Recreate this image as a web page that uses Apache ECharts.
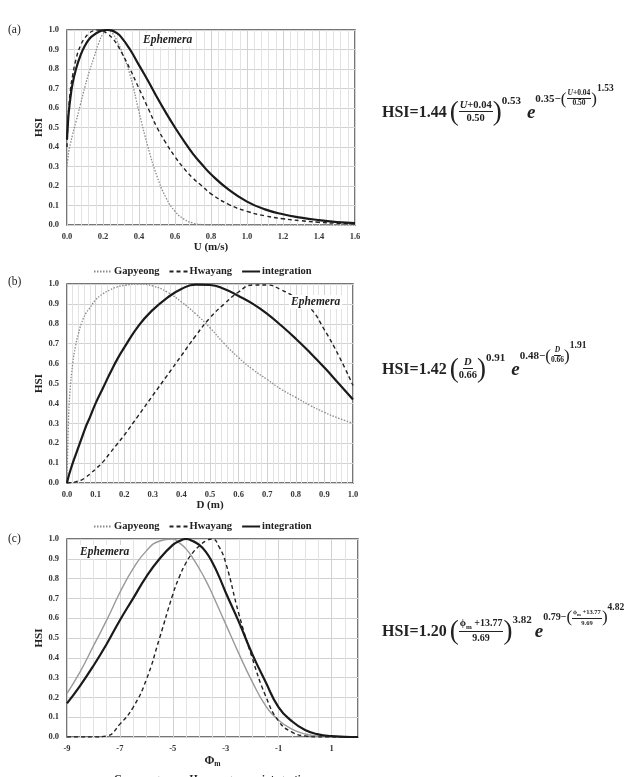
<!DOCTYPE html>
<html lang="en">
<head>
<meta charset="UTF-8">
<title>HSI curves - Ephemera</title>
<script src="https://cdn.jsdelivr.net/npm/echarts@6/dist/echarts.min.js"></script>
<style>
  body { margin: 0; background: #fff; }
  #wrap { position: relative; width: 631px; height: 777px; overflow: hidden; }
  #main { position: absolute; left: 0; top: 0; width: 631px; height: 777px; }
  .eq { position: absolute; left: 382px; display: flex; align-items: center; white-space: nowrap;
        font-family: "Liberation Serif", "DejaVu Serif", serif; font-weight: bold; color: #222; }
  .eq .lhs { font-size: 16px; margin-right: 3px; }
  .eq .par { font-size: 27px; font-weight: normal; line-height: 1; }
  .eq .frac { display: inline-flex; flex-direction: column; align-items: center; font-size: 10.5px; line-height: 1.15; }
  .eq .frac .num { border-bottom: 1px solid #222; padding: 0 1px; }
  .eq .pw { font-size: 11px; align-self: flex-start; margin-top: -4px; margin-right: 6px; }
  .eq .e { font-size: 19px; font-style: italic; }
  .eq .ex { display: inline-flex; align-items: center; font-size: 11px; align-self: flex-start; margin-top: -9px; }
  .eq .ex .frac { font-size: 7.5px; }
  .eq .ex .par { font-size: 17px; }
  .eq .ex .pw { font-size: 9.5px; margin-top: -6px; margin-right: 0; }
  .eq.c .frac { font-size: 10px; }
  .eq.c .pw { margin-right: 3px; }
  .eq.c .ex { font-size: 10px; }
  .eq.c .ex .frac { font-size: 6.5px; }
  .eq.c .ex .pw { margin-right: 0; }
  .eq sub { font-size: 70%; }
</style>
</head>
<body>
<div id="wrap">
  <div id="main"></div>
  <!-- equations (text only) -->
  <div class="eq" style="top:98px">
    <span class="lhs">HSI=1.44</span><span class="par">(</span><span class="frac"><span class="num"><i>U</i>+0.04</span><span class="den">0.50</span></span><span class="par">)</span><span class="pw">0.53</span>
    <span class="e">e</span><span class="ex">0.35−<span class="par">(</span><span class="frac"><span class="num"><i>U</i>+0.04</span><span class="den">0.50</span></span><span class="par">)</span><span class="pw">1.53</span></span>
  </div>
  <div class="eq" style="top:355px">
    <span class="lhs">HSI=1.42</span><span class="par">(</span><span class="frac"><span class="num"><i>D</i></span><span class="den">0.66</span></span><span class="par">)</span><span class="pw">0.91</span>
    <span class="e">e</span><span class="ex">0.48−<span class="par">(</span><span class="frac"><span class="num"><i>D</i></span><span class="den">0.66</span></span><span class="par">)</span><span class="pw">1.91</span></span>
  </div>
  <div class="eq c" style="top:617px">
    <span class="lhs">HSI=1.20</span><span class="par">(</span><span class="frac"><span class="num">ϕ<sub>m</sub> +13.77</span><span class="den">9.69</span></span><span class="par">)</span><span class="pw">3.82</span>
    <span class="e">e</span><span class="ex">0.79−<span class="par">(</span><span class="frac"><span class="num">ϕ<sub>m</sub> +13.77</span><span class="den">9.69</span></span><span class="par">)</span><span class="pw">4.82</span></span>
  </div>
</div>
<script type="text/javascript">
// (a) velocity U (m/s)
var uX   = [0, 0.005, 0.01, 0.02, 0.03, 0.05, 0.075, 0.1, 0.125, 0.15, 0.175, 0.2, 0.225, 0.25, 0.275, 0.3, 0.35, 0.4, 0.45, 0.5, 0.55, 0.6, 0.65, 0.7, 0.75, 0.8, 0.9, 1.0, 1.1, 1.2, 1.3, 1.4, 1.5, 1.6];
var gapA = [0.30, 0.34, 0.38, 0.42, 0.46, 0.53, 0.62, 0.71, 0.79, 0.86, 0.93, 0.98, 1.0, 0.985, 0.95, 0.90, 0.77, 0.58, 0.40, 0.25, 0.14, 0.07, 0.03, 0.01, 0.002, 0, 0, 0, 0, 0, 0, 0, 0, 0];
var hwaA = [0.40, 0.52, 0.60, 0.70, 0.76, 0.85, 0.92, 0.96, 0.985, 0.997, 1.0, 0.995, 0.98, 0.96, 0.93, 0.89, 0.80, 0.70, 0.60, 0.50, 0.42, 0.35, 0.29, 0.24, 0.20, 0.16, 0.105, 0.07, 0.047, 0.032, 0.022, 0.014, 0.009, 0.006];
var intA = [0.44, 0.52, 0.58, 0.66, 0.72, 0.80, 0.87, 0.92, 0.955, 0.975, 0.99, 0.998, 1.0, 0.997, 0.985, 0.965, 0.90, 0.82, 0.74, 0.655, 0.575, 0.50, 0.43, 0.365, 0.31, 0.26, 0.18, 0.12, 0.08, 0.055, 0.038, 0.025, 0.015, 0.01];

// (b) depth D (m)
var dX   = [0, 0.005, 0.01, 0.02, 0.03, 0.04, 0.05, 0.065, 0.08, 0.1, 0.125, 0.15, 0.175, 0.2, 0.25, 0.3, 0.35, 0.4, 0.45, 0.5, 0.55, 0.6, 0.65, 0.7, 0.75, 0.8, 0.85, 0.9, 0.95, 1.0];
var gapB = [0, 0.30, 0.45, 0.60, 0.69, 0.75, 0.80, 0.85, 0.88, 0.92, 0.95, 0.97, 0.985, 0.993, 1.0, 0.99, 0.96, 0.91, 0.85, 0.78, 0.70, 0.63, 0.57, 0.52, 0.47, 0.43, 0.39, 0.355, 0.325, 0.30];
var hwaB = [0, 0, 0.001, 0.003, 0.006, 0.01, 0.015, 0.028, 0.045, 0.07, 0.105, 0.15, 0.195, 0.24, 0.34, 0.44, 0.54, 0.64, 0.74, 0.83, 0.90, 0.96, 0.995, 0.995, 0.97, 0.93, 0.88, 0.77, 0.64, 0.49];
var intB = [0, 0.03, 0.055, 0.10, 0.14, 0.18, 0.22, 0.28, 0.33, 0.40, 0.475, 0.55, 0.62, 0.68, 0.79, 0.87, 0.93, 0.975, 0.997, 0.995, 0.975, 0.94, 0.90, 0.85, 0.79, 0.725, 0.655, 0.58, 0.50, 0.42];

// (c) substrate phi_m
var phiX = [-9, -8.5, -8, -7.5, -7, -6.5, -6, -5.5, -5, -4.75, -4.5, -4.25, -4, -3.75, -3.5, -3.25, -3, -2.5, -2, -1.5, -1, -0.5, 0, 0.5, 1, 1.5, 2];
var gapC = [0.22, 0.33, 0.46, 0.59, 0.73, 0.85, 0.94, 0.99, 1.0, 0.98, 0.95, 0.905, 0.85, 0.79, 0.72, 0.645, 0.57, 0.42, 0.28, 0.16, 0.085, 0.04, 0.015, 0.005, 0.001, 0, 0];
var hwaC = [0, 0, 0, 0.005, 0.065, 0.15, 0.29, 0.50, 0.72, 0.81, 0.88, 0.93, 0.965, 0.99, 1.0, 0.96, 0.88, 0.62, 0.40, 0.21, 0.08, 0.025, 0.005, 0, 0, 0, 0];
var intC = [0.17, 0.26, 0.36, 0.47, 0.59, 0.70, 0.81, 0.90, 0.97, 0.99, 1.0, 0.99, 0.97, 0.935, 0.88, 0.81, 0.73, 0.58, 0.42, 0.28, 0.15, 0.08, 0.035, 0.013, 0.004, 0.001, 0];

var seriesNames = ['Gapyeong', 'Hwayang', 'integration'];

var serif = '"Liberation Serif", "DejaVu Serif", serif';
var chart = echarts.init(document.getElementById('main'));

function pairs(xs, ys) {
    return xs.map(function (x, i) { return [x, ys[i]]; });
}

var grids = [
    {left: 67, top: 30, width: 288, height: 195},
    {left: 67, top: 284, width: 286, height: 199},
    {left: 67, top: 539, width: 291, height: 198}
];

var labelStyle = {fontFamily: serif, fontWeight: 'bold', fontSize: 8.5, color: '#333'};

function xAxisFor(i, min, max, interval, minorN, name, fmt) {
    return {
        type: 'value', gridIndex: i, min: min, max: max, interval: interval,
        name: name, nameLocation: 'middle', nameGap: 17,
        nameTextStyle: {fontFamily: serif, fontWeight: 'bold', fontSize: 11, color: '#222',
            rich: {p: {fontFamily: serif, fontWeight: 'bold', fontSize: 12, color: '#222'},
                   s: {fontFamily: serif, fontWeight: 'bold', fontSize: 7.5, color: '#222', padding: [6, 0, 0, 0]}}},
        axisLine: {show: false}, axisTick: {show: false},
        axisLabel: Object.assign({margin: 7, formatter: fmt, showMaxLabel: i !== 2}, labelStyle),
        splitLine: {show: true, lineStyle: {color: '#d2d2d2', width: 1}},
        minorTick: {show: false, splitNumber: minorN},
        minorSplitLine: {show: true, lineStyle: {color: '#e3e3e3', width: 1}}
    };
}

function yAxisFor(i) {
    return {
        type: 'value', gridIndex: i, min: 0, max: 1, interval: 0.1,
        name: 'HSI', nameLocation: 'middle', nameGap: 22, nameRotate: 90,
        nameTextStyle: {fontFamily: serif, fontWeight: 'bold', fontSize: 11, color: '#222'},
        axisLine: {show: false}, axisTick: {show: false},
        axisLabel: Object.assign({margin: 8, formatter: function (v) { return v.toFixed(1); }}, labelStyle),
        splitLine: {show: true, lineStyle: {color: '#d2d2d2', width: 1}}
    };
}

function lineSeries(i, name, xs, ys, style) {
    return {
        name: name, type: 'line', xAxisIndex: i, yAxisIndex: i,
        data: pairs(xs, ys), smooth: 0.5, symbol: 'none', silent: true,
        itemStyle: {color: style.color}, lineStyle: style, z: 3
    };
}

var dotted = {color: '#8a8a8a', width: 1.3, type: [1.5, 1.5]};
var dashed = {color: '#222', width: 1.4, type: [4, 3]};
var solid  = {color: '#1a1a1a', width: 2.2, type: 'solid'};
var graySolid = {color: '#999', width: 1.4, type: 'solid'};

function legendAt(top) {
    return {
        data: seriesNames, left: 88, top: top, itemWidth: 18, itemHeight: 8, itemGap: 9,
        selectedMode: false,
        itemStyle: {opacity: 0},
        textStyle: {fontFamily: serif, fontWeight: 'bold', fontSize: 10.5, color: '#222', padding: [0, 0, 0, -3]}
    };
}

function panelText(x, y, text, italic) {
    return {
        type: 'text', left: x, top: y, silent: true, z: 10,
        style: {text: text, fontFamily: serif, fontSize: 11.5,
            fontWeight: italic ? 'bold' : 'normal', fontStyle: italic ? 'italic' : 'normal',
            fill: '#222', backgroundColor: italic ? '#fff' : 'transparent', padding: italic ? [1, 2] : 0}
    };
}

var option = {
    backgroundColor: '#fff',
    animation: false,
    grid: grids.map(function (g) {
        return Object.assign({show: true, borderColor: '#4a4a4a', borderWidth: 1.5, backgroundColor: 'transparent'}, g);
    }),
    xAxis: [
        xAxisFor(0, 0, 1.6, 0.2, 5, 'U (m/s)', function (v) { return v.toFixed(1); }),
        xAxisFor(1, 0, 1, 0.1, 5, 'D (m)', function (v) { return v.toFixed(1); }),
        xAxisFor(2, -9, 2, 2, 4, '{p|Φ}{s|m}', function (v) { return String(v); })
    ],
    yAxis: [yAxisFor(0), yAxisFor(1), yAxisFor(2)],
    legend: [legendAt(261), legendAt(516), legendAt(769)],
    graphic: [
        panelText(8, 24, '(a)'),
        panelText(8, 276, '(b)'),
        panelText(8, 533, '(c)'),
        panelText(141, 33, 'Ephemera', true),
        panelText(289, 295, 'Ephemera', true),
        panelText(78, 545, 'Ephemera', true)
    ],
    series: [
        lineSeries(0, 'Gapyeong', uX, gapA, dotted),
        lineSeries(0, 'Hwayang', uX, hwaA, dashed),
        lineSeries(0, 'integration', uX, intA, solid),
        lineSeries(1, 'Gapyeong', dX, gapB, dotted),
        lineSeries(1, 'Hwayang', dX, hwaB, dashed),
        lineSeries(1, 'integration', dX, intB, solid),
        lineSeries(2, 'Gapyeong', phiX, gapC, graySolid),
        lineSeries(2, 'Hwayang', phiX, hwaC, dashed),
        lineSeries(2, 'integration', phiX, intC, solid)
    ]
};
chart.setOption(option);
</script>
</body>
</html>
